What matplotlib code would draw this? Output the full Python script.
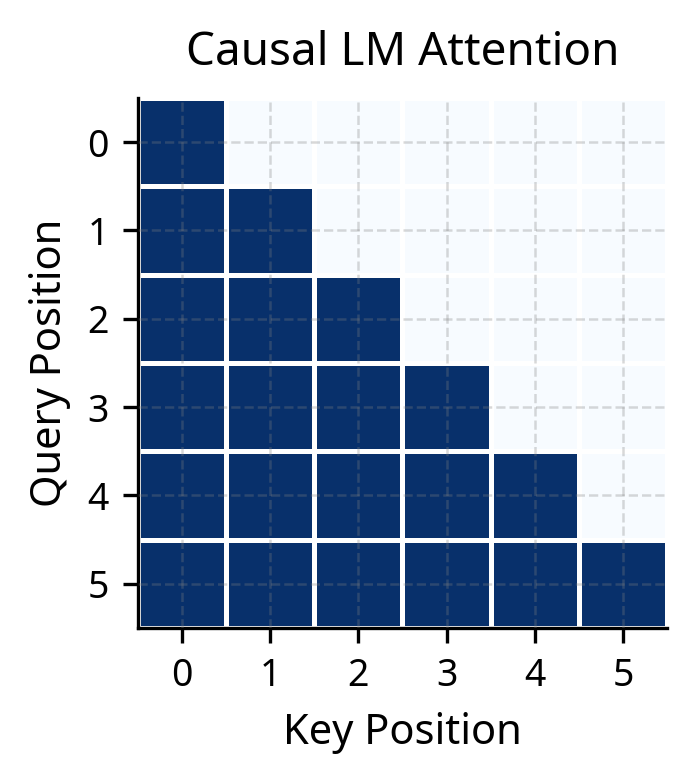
import matplotlib.pyplot as plt
import numpy as np

plt.rcParams['font.family'] = ['Noto Sans', 'DejaVu Sans']

positions = [0, 1, 2, 3, 4, 5]
# causal mask: 1 where key <= query
mask = np.array([
    [1, 0, 0, 0, 0, 0],
    [1, 1, 0, 0, 0, 0],
    [1, 1, 1, 0, 0, 0],
    [1, 1, 1, 1, 0, 0],
    [1, 1, 1, 1, 1, 0],
    [1, 1, 1, 1, 1, 1],
])

fig = plt.figure(figsize=(697 / 300, 784 / 300), dpi=300)
ax = fig.add_axes([138 / 697, 1 - 628 / 784, 529 / 697, 530 / 784])

edges = np.arange(len(positions) + 1) - 0.5
ax.pcolormesh(edges, edges, mask, cmap='Blues', vmin=0, vmax=1,
              edgecolors='white', linewidth=0.8)
ax.set_xlim(-0.5, 5.5)
ax.set_ylim(5.5, -0.5)
ax.set_xticks(positions)
ax.set_yticks(positions)
ax.tick_params(labelsize=9, width=0.8, length=3.5)
ax.grid(True, linestyle='--', color='gray', alpha=0.3, linewidth=0.6)
ax.set_axisbelow(False)
for s in ['top', 'right']:
    ax.spines[s].set_visible(False)
for s in ['left', 'bottom']:
    ax.spines[s].set_linewidth(0.8)

ax.set_title('Causal LM Attention', fontsize=11, fontweight='bold', pad=8)
ax.set_xlabel('Key Position', fontsize=10)
ax.set_ylabel('Query Position', fontsize=10)

fig.savefig('out.png', dpi=300)
